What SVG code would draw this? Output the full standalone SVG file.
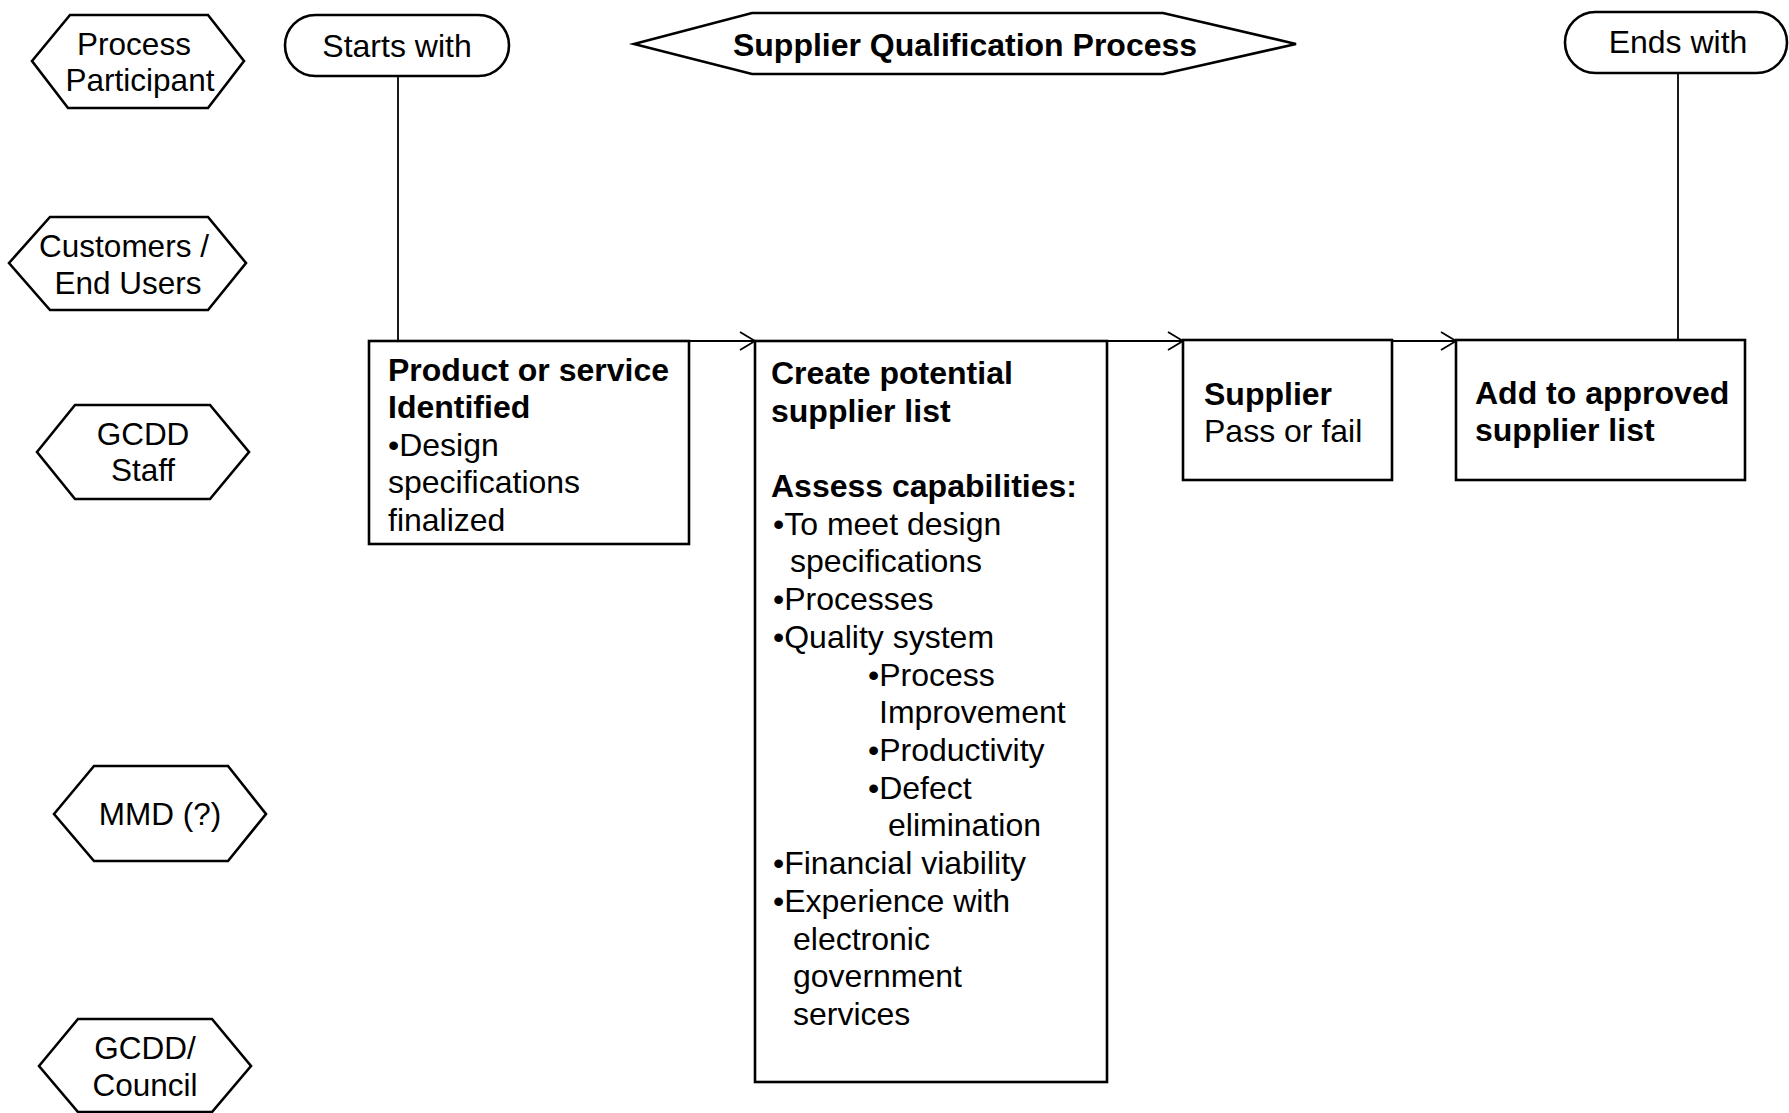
<svg xmlns="http://www.w3.org/2000/svg" width="1789" height="1113" viewBox="0 0 1789 1113">
<defs>
<marker id="chev" markerUnits="userSpaceOnUse" markerWidth="18" markerHeight="22" refX="16" refY="10" orient="auto">
<path d="M1,1 L16,10 L1,19" fill="none" stroke="#000" stroke-width="1.8"/>
</marker>
</defs>
<style>
.shape{fill:#fff;stroke:#000;stroke-width:2.6}
.conn{fill:none;stroke:#000;stroke-width:1.8}
text{font-family:"Liberation Sans",Arial,sans-serif;font-size:32px;fill:#000}
.h{font-size:31.5px}
.c{text-anchor:middle}
.b{font-weight:bold}
</style>
<rect width="1789" height="1113" fill="#fff"/>
<g id="connectors">
<line class="conn" x1="398" y1="76" x2="398" y2="341"/>
<line class="conn" x1="1678" y1="73" x2="1678" y2="340"/>
<line class="conn" x1="689" y1="341" x2="755" y2="341" marker-end="url(#chev)"/>
<line class="conn" x1="1107" y1="341" x2="1183" y2="341" marker-end="url(#chev)"/>
<line class="conn" x1="1392" y1="341" x2="1456" y2="341" marker-end="url(#chev)"/>
</g>
<g id="lane-process-participant">
<polygon class="shape" points="32,61 70,15 208,15 244,61 208,108 68,108"/>
<text class="c h" x="134" y="55">Process</text>
<text class="c h" x="140" y="91">Participant</text>
</g>
<g id="lane-customers">
<polygon class="shape" points="9,263 50,217 208,217 246,263 208,310 50,310"/>
<text class="c h" x="124" y="257">Customers /</text>
<text class="c h" x="128" y="294">End Users</text>
</g>
<g id="lane-gcdd-staff">
<polygon class="shape" points="37,452 75,405 210,405 249,452 210,499 75,499"/>
<text class="c h" x="143" y="445">GCDD</text>
<text class="c h" x="143" y="481">Staff</text>
</g>
<g id="lane-mmd">
<polygon class="shape" points="54,814 94,766 228,766 266,814 228,861 94,861"/>
<text class="c h" x="160" y="825">MMD (?)</text>
</g>
<g id="lane-gcdd-council">
<polygon class="shape" points="39,1066 78,1019 212,1019 251,1066 212,1112 78,1112"/>
<text class="c h" x="145" y="1059">GCDD/</text>
<text class="c h" x="145" y="1096">Council</text>
</g>
<g id="title">
<polygon class="shape" points="634,44 752,13 1163,13 1296,44 1163,74 752,74"/>
<text class="c b" x="965" y="56">Supplier Qualification Process</text>
</g>
<g id="starts-with">
<rect class="shape" x="285" y="15" width="224" height="61" rx="30.5"/>
<text class="c" x="397" y="57">Starts with</text>
</g>
<g id="ends-with">
<rect class="shape" x="1565" y="12" width="222" height="61" rx="30.5"/>
<text class="c" x="1678" y="53">Ends with</text>
</g>
<g id="product-identified">
<rect class="shape" x="369" y="341" width="320" height="203"/>
<text class="b" x="388" y="381">Product or service</text>
<text class="b" x="388" y="418">Identified</text>
<text x="388" y="456">•Design</text>
<text x="388" y="493">specifications</text>
<text x="388" y="531">finalized</text>
</g>
<g id="create-supplier-list">
<rect class="shape" x="755" y="341" width="352" height="741"/>
<text class="b" x="771" y="384">Create potential</text>
<text class="b" x="771" y="422">supplier list</text>
<text class="b" x="771" y="497">Assess capabilities:</text>
<text x="773" y="535">•To meet design</text>
<text x="790" y="572">specifications</text>
<text x="773" y="610">•Processes</text>
<text x="773" y="648">•Quality system</text>
<text x="868" y="686">•Process</text>
<text x="879" y="723">Improvement</text>
<text x="868" y="761">•Productivity</text>
<text x="868" y="799">•Defect</text>
<text x="888" y="836">elimination</text>
<text x="773" y="874">•Financial viability</text>
<text x="773" y="912">•Experience with</text>
<text x="793" y="950">electronic</text>
<text x="793" y="987">government</text>
<text x="793" y="1025">services</text>
</g>
<g id="supplier-pass-fail">
<rect class="shape" x="1183" y="340" width="209" height="140"/>
<text class="b" x="1204" y="405">Supplier</text>
<text x="1204" y="442">Pass or fail</text>
</g>
<g id="add-approved">
<rect class="shape" x="1456" y="340" width="289" height="140"/>
<text class="b" x="1475" y="404">Add to approved</text>
<text class="b" x="1475" y="441">supplier list</text>
</g>
</svg>
